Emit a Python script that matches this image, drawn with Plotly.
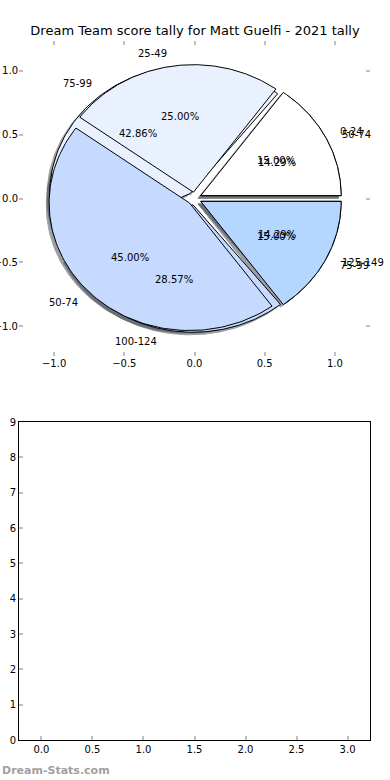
import numpy as np
import plotly.graph_objects as go

# ---- data ----
title_text = "Dream Team score tally for Matt Guelfi - 2021 tally"
labels_a = ["0-24", "25-49", "50-74", "75-99"]
counts_a = [3, 5, 9, 3]
labels_b = ["50-74", "75-99", "100-124", "125-149"]
counts_b = [1, 3, 2, 1]
slice_colors = ["#ffffff", "#eaf1fe", "#c6d9fe", "#b4d6ff"]
explode = [0.05, 0.05, 0.05, 0.05]
bottom_x_ticks = [0.0, 0.5, 1.0, 1.5, 2.0, 2.5, 3.0]
bottom_y_ticks = [0, 1, 2, 3, 4, 5, 6, 7, 8, 9]
pie_ticks = [-1.0, -0.5, 0.0, 0.5, 1.0]

FONT = "DejaVu Sans"
fig = go.Figure()


def wedge_points(cx, cy, r, t1, t2, n=120):
    th = np.linspace(np.radians(t1), np.radians(t2), n)
    xs = np.concatenate([[cx], cx + r * np.cos(th), [cx]])
    ys = np.concatenate([[cy], cy + r * np.sin(th), [cy]])
    return xs, ys


def darken(hexc, rho=0.3):
    h = hexc.lstrip("#")
    r, g, b = (int(h[i:i + 2], 16) for i in (0, 2, 4))
    return "rgb(%d,%d,%d)" % (r * rho, g * rho, b * rho)


def pie_geometry(counts):
    vals = np.array(counts, float)
    frac = vals / vals.sum()
    geo = []
    start = 0.0
    for i, f in enumerate(frac):
        t1 = start * 360
        t2 = (start + f) * 360
        tm = np.radians((t1 + t2) / 2)
        cx = explode[i] * np.cos(tm)
        cy = explode[i] * np.sin(tm)
        geo.append((cx, cy, t1, t2, tm, f))
        start += f
    return geo


geo_a = pie_geometry(counts_a)
geo_b = pie_geometry(counts_b)

# shadows (below all wedges)
for geo in (geo_b, geo_a):
    for i, (cx, cy, t1, t2, tm, f) in enumerate(geo):
        xs, ys = wedge_points(cx - 0.02, cy - 0.02, 1.0, t1, t2)
        fig.add_trace(go.Scatter(x=xs, y=ys, mode="lines", fill="toself",
                                 fillcolor=darken(slice_colors[i]),
                                 line=dict(color=darken(slice_colors[i]), width=1),
                                 opacity=0.5, hoverinfo="skip", showlegend=False,
                                 xaxis="x", yaxis="y"))
# wedges
for geo in (geo_b, geo_a):
    for i, (cx, cy, t1, t2, tm, f) in enumerate(geo):
        xs, ys = wedge_points(cx, cy, 1.0, t1, t2)
        fig.add_trace(go.Scatter(x=xs, y=ys, mode="lines", fill="toself",
                                 fillcolor=slice_colors[i],
                                 line=dict(color="black", width=1),
                                 hoverinfo="skip", showlegend=False,
                                 xaxis="x", yaxis="y"))

annotations = []
for geo, labs in ((geo_b, labels_b), (geo_a, labels_a)):
    for i, (cx, cy, t1, t2, tm, f) in enumerate(geo):
        lx = cx + 1.1 * np.cos(tm)
        ly = cy + 1.1 * np.sin(tm)
        annotations.append(dict(x=lx, y=ly, xref="x", yref="y", text=labs[i],
                                showarrow=False,
                                xanchor="left" if lx > 0 else "right",
                                yanchor="middle",
                                font=dict(family=FONT, size=10, color="black")))
        px = cx + 0.6 * np.cos(tm)
        py = cy + 0.6 * np.sin(tm)
        annotations.append(dict(x=px, y=py, xref="x", yref="y",
                                text="%.2f%%" % (f * 100), showarrow=False,
                                xanchor="center", yanchor="middle",
                                font=dict(family=FONT, size=10, color="black")))

W, H = 390, 780
mt, mb, ml, mr = 41, 40, 19, 20
ph = H - mt - mb
top_bottom_px = 356
bot_top_px = 422

annotations.append(dict(x=-ml / (W - ml - mr), y=-30 / ph, xref="paper", yref="paper",
                        xanchor="left", yanchor="middle", showarrow=False,
                        text="<b>Dream-Stats.com</b>",
                        font=dict(family=FONT, size=11, color="#a0a0a0")))

# empty bottom axes
fig.add_trace(go.Scatter(x=[], y=[], xaxis="x2", yaxis="y2", showlegend=False))

tickfont = dict(family=FONT, size=10, color="black")
common_tick = dict(ticks="inside", ticklen=4, tickwidth=1.5, tickcolor="#bfbfbf",
                   tickfont=tickfont, showgrid=False, zeroline=False,
                   automargin=False)

fig.update_layout(
    width=W, height=H,
    margin=dict(l=ml, r=mr, t=mt, b=mb, autoexpand=False),
    paper_bgcolor="white", plot_bgcolor="white",
    title=dict(text=title_text, x=0.5, xanchor="center", y=1 - 30 / H,
               yanchor="middle", font=dict(family=FONT, size=13, color="black")),
    xaxis=dict(domain=[0, 1], range=[-1.25, 1.25], tickvals=pie_ticks,
               tickformat=".1f", showline=False, mirror="ticks", anchor="y",
               **common_tick),
    yaxis=dict(domain=[(H - mb - top_bottom_px) / ph, 1], range=[-1.235, 1.235],
               tickvals=pie_ticks, tickformat=".1f", showline=False, mirror="ticks",
               anchor="x", **common_tick),
    xaxis2=dict(domain=[0, 1], range=[-0.22, 3.22], tickvals=bottom_x_ticks,
                tickformat=".1f", showline=True, linecolor="black", linewidth=1,
                mirror=True, anchor="y2", **common_tick),
    yaxis2=dict(domain=[0, (H - mb - bot_top_px) / ph], range=[0, 9],
                tickvals=bottom_y_ticks, showline=True, linecolor="black",
                linewidth=1, mirror=True, anchor="x2", **common_tick),
    annotations=annotations,
    showlegend=False,
)

fig.write_html("out.html", config={"displayModeBar": False},
               post_script="document.body.style.margin='0';document.body.style.padding='0';document.body.style.overflow='hidden';")
